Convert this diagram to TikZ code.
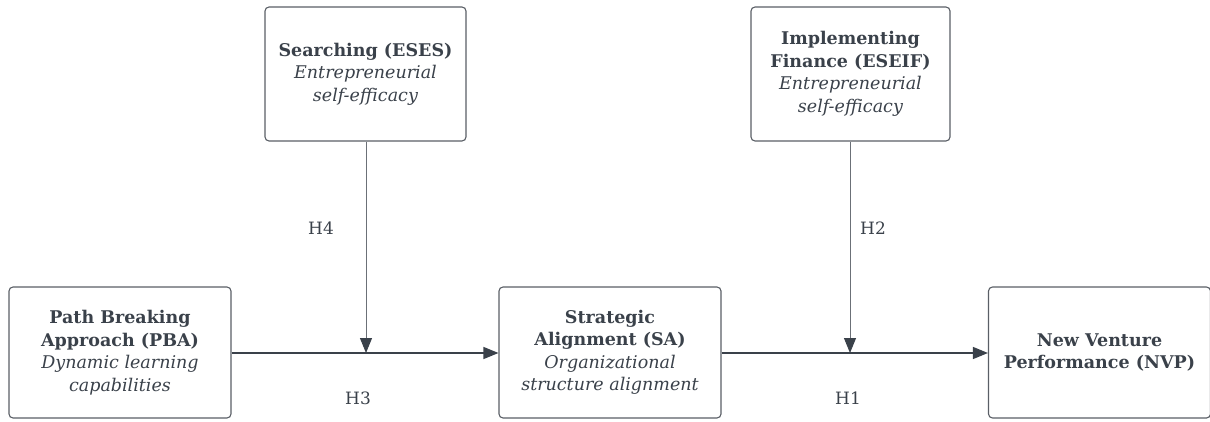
\documentclass[tikz,border=0pt]{standalone}
\usepackage{fontspec}
\setmainfont{DejaVu Serif}
\usetikzlibrary{arrows.meta}
\definecolor{txt}{HTML}{3A414A}
\definecolor{bord}{HTML}{5A5F66}
\definecolor{vline}{HTML}{6B7077}
\tikzset{
  box/.style={draw=bord, line width=1.1pt, rounded corners=4pt, fill=white, align=center, text=txt, inner sep=0pt, font=\fontsize{17.5}{22.5}\selectfont},
  conn/.style={draw=txt, line width=1.3pt, -{Triangle[length=15pt,width=12pt]}},
  vconn/.style={draw=vline, line width=1pt, -{Triangle[length=15pt,width=12pt,color=txt,fill=txt]}},
  lab/.style={text=txt, font=\fontsize{17}{20}\selectfont}
}
\begin{document}
\begin{tikzpicture}[x=1pt,y=1pt]
\useasboundingbox (0,0) rectangle (1210,421);
\node[box, minimum width=222pt, minimum height=131pt] (pba) at (120,68.5) {\textbf{Path Breaking}\\\textbf{Approach (PBA)}\\\textit{Dynamic learning}\\\textit{capabilities}};
\node[box, minimum width=222pt, minimum height=131pt] (sa) at (610,68.5) {\textbf{Strategic}\\\textbf{Alignment (SA)}\\\textit{Organizational}\\\textit{structure alignment}};
\node[box, minimum width=222pt, minimum height=131pt] (nvp) at (1099.5,68.5) {\textbf{New Venture}\\\textbf{Performance (NVP)}};
\node[box, minimum width=201pt, minimum height=134pt] (eses) at (365.5,347) {\textbf{Searching (ESES)}\\\textit{Entrepreneurial}\\\textit{self-efficacy}};
\node[box, minimum width=199pt, minimum height=134pt] (eseif) at (850.5,347) {\textbf{Implementing}\\\textbf{Finance (ESEIF)}\\\textit{Entrepreneurial}\\\textit{self-efficacy}};
\coordinate (m1) at (366,68);
\coordinate (m2) at (850,68);
\draw[conn] (pba.east |- 0,68) -- (sa.west |- 0,68);
\draw[conn] (sa.east |- 0,68) -- (nvp.west |- 0,68);
\draw[vconn] (eses.south -| m1) -- (m1);
\draw[vconn] (eseif.south -| m2) -- (m2);
\node[lab] (h4) at (321,193) {H4};
\node[lab] (h3) at (358,23) {H3};
\node[lab] (h2) at (873,193) {H2};
\node[lab] (h1) at (848,23) {H1};
\end{tikzpicture}
\end{document}
